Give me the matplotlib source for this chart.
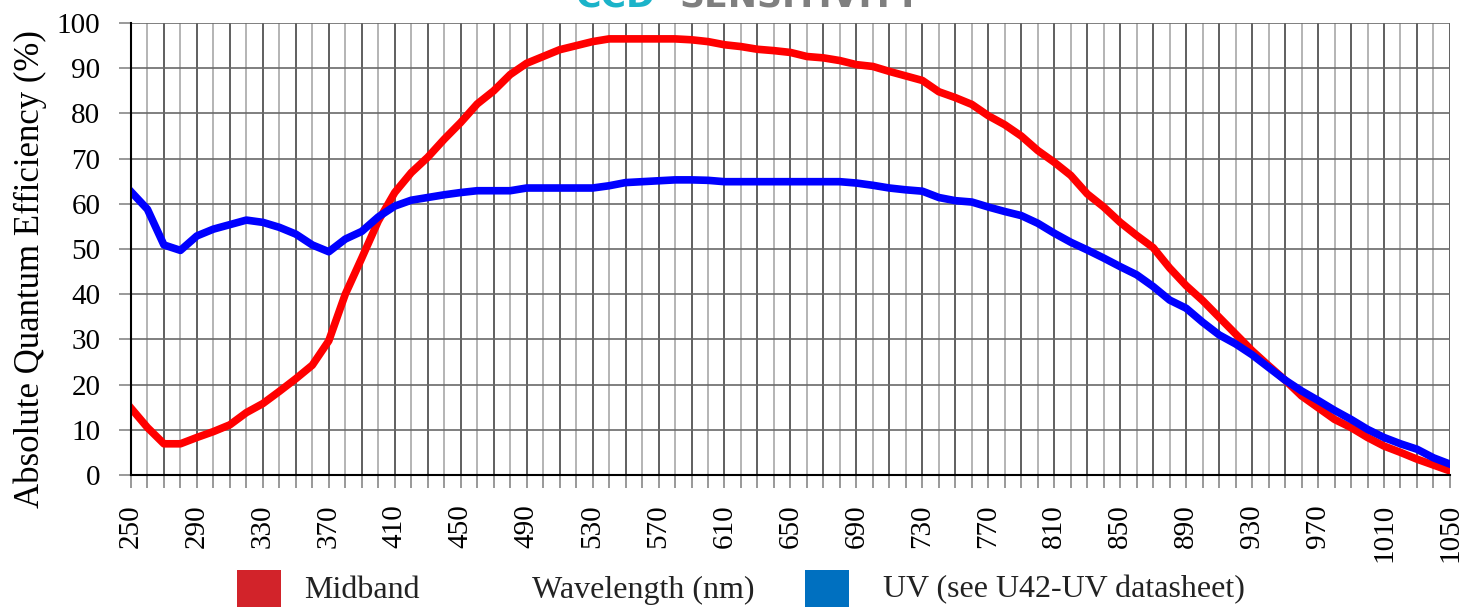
import numpy as np
import matplotlib.pyplot as plt
from matplotlib.patches import Rectangle

# wavelength grid (nm), one point every 10 nm
wavelength = list(range(250, 1051, 10))

# Midband absolute QE (%)
midband = [14.8, 10.5, 6.9, 6.9, 8.3, 9.6, 11.1, 13.8, 15.8, 18.5,      # 250-340
           21.3, 24.3, 29.7, 40.0, 48.0, 56.2, 62.5, 66.9, 70.3, 74.3,   # 350-440
           78.0, 82.1, 85.0, 88.6, 91.1, 92.6, 94.1, 95.0, 95.9, 96.5,   # 450-540
           96.5, 96.5, 96.5, 96.5, 96.3, 95.9, 95.2, 94.8, 94.2, 93.9,   # 550-640
           93.5, 92.6, 92.3, 91.7, 90.8, 90.4, 89.3, 88.3, 87.3, 84.8,   # 650-740
           83.5, 82.0, 79.5, 77.5, 75.0, 71.8, 69.2, 66.3, 62.2, 59.3,   # 750-840
           55.9, 53.0, 50.3, 45.8, 41.9, 38.6, 34.9, 31.2, 27.5, 24.2,   # 850-940
           21.0, 17.5, 14.9, 12.3, 10.5, 8.3, 6.4, 5.0, 3.5, 2.2,        # 950-1040
           0.9]                                                          # 1050

# UV absolute QE (%)
uv = [62.7, 58.8, 50.9, 49.7, 52.9, 54.4, 55.4, 56.4, 55.9, 54.8,
      53.3, 50.9, 49.4, 52.2, 53.9, 57.1, 59.5, 60.8, 61.4, 62.0,
      62.5, 62.9, 62.9, 62.9, 63.5, 63.5, 63.5, 63.5, 63.5, 64.0,
      64.7, 64.9, 65.1, 65.3, 65.3, 65.2, 64.9, 64.9, 64.9, 64.9,
      64.9, 64.9, 64.9, 64.9, 64.6, 64.1, 63.5, 63.1, 62.8, 61.4,
      60.7, 60.4, 59.3, 58.3, 57.4, 55.7, 53.5, 51.5, 49.8, 48.0,
      46.1, 44.3, 41.7, 38.7, 36.9, 33.8, 31.0, 29.0, 26.6, 23.8,
      21.0, 18.6, 16.5, 14.3, 12.3, 10.1, 8.3, 6.9, 5.7, 3.8,
      2.4]

x_labels = list(range(250, 1051, 40))
y_labels = list(range(0, 101, 10))

plt.rcParams['font.family'] = ['Liberation Serif', 'DejaVu Serif']

fig = plt.figure(figsize=(14.68, 6.07), dpi=100)
ax = fig.add_axes([0.0892, 0.2175, 0.8985, 0.7445])

# grid lines: alternating dark / light verticals
for i, w in enumerate(wavelength):
    col = '#444444' if i % 2 == 0 else '#a8a8a8'
    ax.axvline(w, color=col, linewidth=1.2, zorder=1)
for v in y_labels[1:]:
    ax.axhline(v, color='#6a6a6a', linewidth=1.2, zorder=1)

ax.plot(wavelength, midband, color='#ff0000', linewidth=5.5, zorder=3)
ax.plot(wavelength, uv, color='#0000ff', linewidth=5.5, zorder=4)

ax.set_xlim(250, 1050)
ax.set_ylim(0, 100)
ax.set_xticks(wavelength, minor=True)
ax.set_xticks(x_labels)
ax.set_xticklabels([str(v) for v in x_labels], rotation=90, fontsize=21)
ax.set_yticks(y_labels)
ax.set_yticklabels([str(v) for v in y_labels], fontsize=21)
ax.tick_params(axis='x', which='both', length=9, width=1.2, color='#888888', pad=12)
ax.tick_params(axis='y', length=9, width=1.2, color='#888888', pad=13)

for s in ['top', 'right']:
    ax.spines[s].set_visible(False)
ax.spines['left'].set_linewidth(1.5)
ax.spines['bottom'].set_linewidth(1.5)
ax.spines['left'].set_zorder(5)
ax.spines['bottom'].set_zorder(5)

ax.set_ylabel('Absolute Quantum Efficiency (%)', fontsize=25)
ax.yaxis.set_label_coords(-0.0766, 0.456)
ax.yaxis.label.set_verticalalignment('center')

# cut-off heading at the very top
fig.text(655 / 1468, 0.9885, 'CCD', color='#1bb3c9', fontsize=25, fontweight='bold',
         family='DejaVu Sans', ha='right', va='baseline')
fig.text(680 / 1468, 0.9885, 'SENSITIVITY', color='#7f7f7f', fontsize=25, fontweight='bold',
         family='DejaVu Sans', ha='left', va='baseline')

# legend row at the bottom
W, H = 1468, 607
fig.patches.append(Rectangle((237 / W, 0), 44 / W, 37 / H, transform=fig.transFigure,
                             facecolor='#d2232a', edgecolor='none'))
fig.patches.append(Rectangle((805 / W, 0), 44 / W, 37 / H, transform=fig.transFigure,
                             facecolor='#0070c0', edgecolor='none'))
fig.text(362 / W, 17 / H, 'Midband', fontsize=23, color='#222222', ha='center', va='center')
fig.text(643 / W, 17 / H, 'Wavelength (nm)', fontsize=23, color='#222222', ha='center', va='center')
fig.text(1064 / W, 17 / H, 'UV (see U42-UV datasheet)', fontsize=23, color='#222222',
         ha='center', va='center')

fig.savefig('out.png', dpi=100)
